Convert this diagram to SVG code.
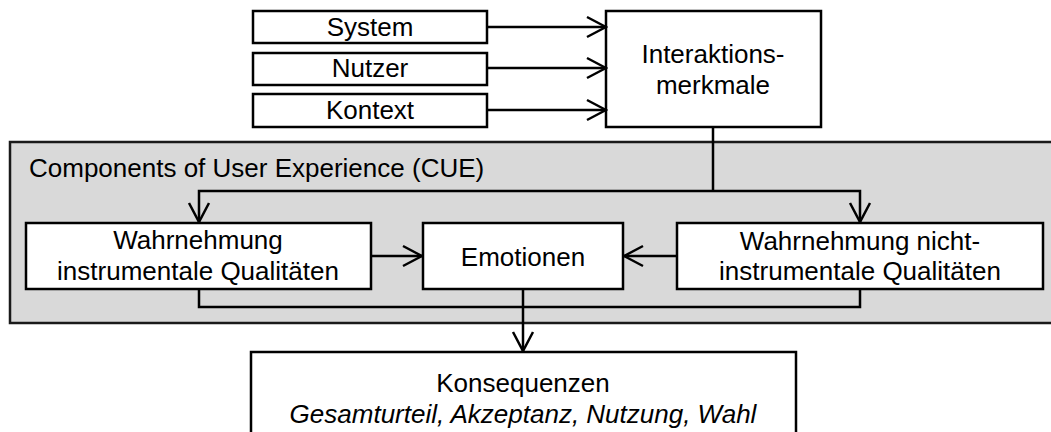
<svg xmlns="http://www.w3.org/2000/svg" width="1051" height="432" viewBox="0 0 1051 432">
  <style>
    .box { fill: #ffffff; stroke: #000000; stroke-width: 2.5; }
    .group { fill: #d9d9d9; stroke: #1a1a1a; stroke-width: 2.5; }
    .lbl { font-family: "Liberation Sans", Arial, sans-serif; font-size: 26px; fill: #000000; text-anchor: middle; }
    .title { text-anchor: start; }
    .it { font-style: italic; }
    .wire { fill: none; stroke: #000000; stroke-width: 2.5; }
  </style>
  <defs>
    <marker id="open" viewBox="0 0 22 24" refX="20" refY="12" markerWidth="22" markerHeight="24" markerUnits="userSpaceOnUse" orient="auto">
      <path d="M1,2 L20,12 L1,22" fill="none" stroke="#000000" stroke-width="2.5"/>
    </marker>
  </defs>

  <rect width="1051" height="432" fill="#ffffff"/>

  <!-- CUE container -->
  <g id="cue">
    <rect class="group" x="10" y="142" width="1060" height="181"/>
    <text class="lbl title" x="29" y="177">Components of User Experience (CUE)</text>
  </g>

  <g id="system">
    <rect class="box" x="253" y="11" width="234" height="32"/>
    <text class="lbl" x="370" y="36">System</text>
  </g>
  <g id="nutzer">
    <rect class="box" x="253" y="53" width="234" height="32"/>
    <text class="lbl" x="370" y="77">Nutzer</text>
  </g>
  <g id="kontext">
    <rect class="box" x="253" y="94" width="234" height="33"/>
    <text class="lbl" x="370" y="119">Kontext</text>
  </g>

  <g id="interaktionsmerkmale">
    <rect class="box" x="606" y="11" width="215" height="116"/>
    <text class="lbl" x="713" y="63">Interaktions-</text>
    <text class="lbl" x="713" y="94">merkmale</text>
  </g>

  <g id="instrumentell">
    <rect class="box" x="26" y="223" width="345" height="66"/>
    <text class="lbl" x="198" y="249">Wahrnehmung</text>
    <text class="lbl" x="198" y="280">instrumentale Qualitäten</text>
  </g>

  <g id="emotionen">
    <rect class="box" x="423" y="223" width="200" height="66"/>
    <text class="lbl" x="523" y="266">Emotionen</text>
  </g>

  <g id="nicht-instrumentell">
    <rect class="box" x="677" y="223" width="366" height="66"/>
    <text class="lbl" x="860" y="250">Wahrnehmung nicht-</text>
    <text class="lbl" x="860" y="280">instrumentale Qualitäten</text>
  </g>

  <g id="konsequenzen">
    <rect class="box" x="251" y="352" width="545" height="100"/>
    <text class="lbl" x="523" y="392">Konsequenzen</text>
    <text class="lbl it" x="523" y="423">Gesamturteil, Akzeptanz, Nutzung, Wahl</text>
  </g>

  <g id="connectors">
    <line class="wire" x1="487" y1="27" x2="606" y2="27" marker-end="url(#open)"/>
    <line class="wire" x1="487" y1="68" x2="606" y2="68" marker-end="url(#open)"/>
    <line class="wire" x1="487" y1="110" x2="606" y2="110" marker-end="url(#open)"/>
    <polyline class="wire" points="713,127 713,191"/>
    <polyline class="wire" points="713,191 199,191 199,222" marker-end="url(#open)"/>
    <polyline class="wire" points="713,191 860,191 860,222" marker-end="url(#open)"/>
    <line class="wire" x1="371" y1="256" x2="422" y2="256" marker-end="url(#open)"/>
    <line class="wire" x1="677" y1="256" x2="624" y2="256" marker-end="url(#open)"/>
    <polyline class="wire" points="199,289 199,307 860,307 860,289"/>
    <line class="wire" x1="523" y1="289" x2="523" y2="351" marker-end="url(#open)"/>
  </g>
</svg>
